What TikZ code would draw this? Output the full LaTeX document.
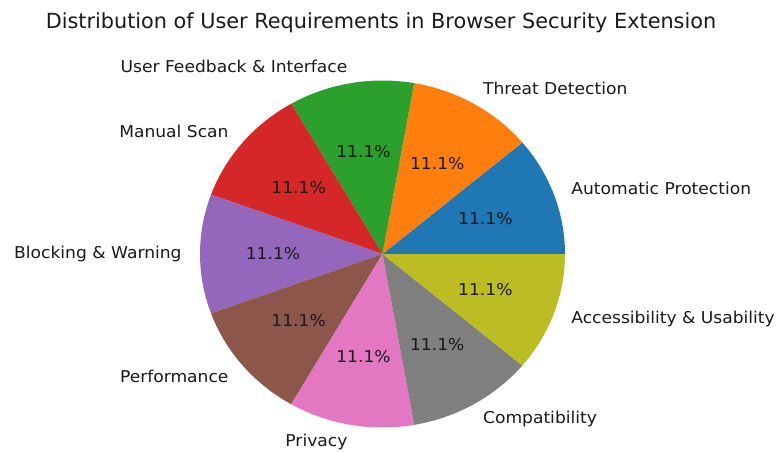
\documentclass[tikz,border=0pt]{standalone}
\usepackage{fontspec}
\setmainfont{DejaVu Sans}
\definecolor{c1}{HTML}{1F77B4}
\definecolor{c2}{HTML}{FF7F0E}
\definecolor{c3}{HTML}{2CA02C}
\definecolor{c4}{HTML}{D62728}
\definecolor{c5}{HTML}{9467BD}
\definecolor{c6}{HTML}{8C564B}
\definecolor{c7}{HTML}{E377C2}
\definecolor{c8}{HTML}{7F7F7F}
\definecolor{c9}{HTML}{BCBD22}
\definecolor{txt}{HTML}{1A1A1A}
\begin{document}
\begin{tikzpicture}[
  lbl/.style={inner sep=0pt, text=txt, font=\fontsize{16.3}{19}\selectfont, xscale=1.05, transform shape},
  ttl/.style={inner sep=0pt, text=txt, font=\fontsize{20.8}{24}\selectfont}
]
\path[use as bounding box, fill=white] (0,0) rectangle (777pt,451pt);
\node[ttl] (title) at (381pt,428pt) {Distribution of User Requirements in Browser Security Extension};
\begin{scope}[shift={(382.5pt,197pt)}, x=182.5pt, y=173.5pt]
  \foreach \i/\c in {0/c1,1/c2,2/c3,3/c4,4/c5,5/c6,6/c7,7/c8,8/c9}{
    \fill[\c] (0,0) -- plot[domain={40*\i}:{40*\i+40}, samples=30] ({cos(\x)},{sin(\x)}) -- cycle;
  }
  \node[lbl, anchor=west] (l1) at ({1.1*cos(20)},{1.1*sin(20)}) {Automatic Protection};
  \node[lbl, anchor=west] (l2) at ({1.1*cos(60)},{1.1*sin(60)}) {Threat Detection};
  \node[lbl, anchor=east] (l3) at ({1.1*cos(100)},{1.1*sin(100)}) {User Feedback \& Interface};
  \node[lbl, anchor=east] (l4) at ({1.1*cos(140)},{1.1*sin(140)}) {Manual Scan};
  \node[lbl, anchor=east] (l5) at ({1.1*cos(180)},{1.1*sin(180)}) {Blocking \& Warning};
  \node[lbl, anchor=east] (l6) at ({1.1*cos(220)},{1.1*sin(220)}) {Performance};
  \node[lbl, anchor=east] (l7) at ({1.1*cos(260)},{1.1*sin(260)}) {Privacy};
  \node[lbl, anchor=west] (l8) at ({1.1*cos(300)},{1.1*sin(300)}) {Compatibility};
  \node[lbl, anchor=west] (l9) at ({1.1*cos(340)},{1.1*sin(340)}) {Accessibility \& Usability};
  \foreach \i in {1,...,9}{
    \node[lbl] (p\i) at ({0.6*cos(40*\i-20)},{0.6*sin(40*\i-20)}) {11.1\%};
  }
\end{scope}
\end{tikzpicture}
\end{document}
